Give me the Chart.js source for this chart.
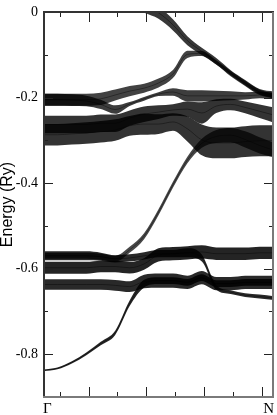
<!DOCTYPE html>
<html lang="en">
<head>
<meta charset="UTF-8">
<title>Fat bands Γ–N</title>
<script src="https://cdn.jsdelivr.net/npm/chart.js@4.4.1/dist/chart.umd.min.js"></script>
<style>
    body { margin: 0; background: #fff; }
    .chart-container { position: relative; width: 277px; height: 415px; }
</style>
</head>
<body>
<div class="chart-container"><canvas id="bandChart"></canvas></div>
<script>
// k along the path, Γ = 0, N = 1
const K = [0, 0.0625, 0.125, 0.1875, 0.25, 0.3125, 0.375, 0.4375, 0.5, 0.5625, 0.625, 0.6875, 0.75, 0.8125, 0.875, 0.9375, 1];

// band energies (Ry) and fat-band widths (Ry), one pair per band
const E_L1 = [-0.838, -0.833, -0.819, -0.799, -0.775, -0.750, -0.681, -0.635, -0.628, -0.628, -0.632, -0.621, -0.635, -0.635, -0.632, -0.632, -0.632];
const W_L1 = [0.004, 0.0045, 0.0055, 0.0065, 0.008, 0.010, 0.013, 0.018, 0.016, 0.016, 0.016, 0.016, 0.016, 0.016, 0.016, 0.016, 0.016];

const E_C = [-0.637, -0.637, -0.637, -0.637, -0.637, -0.639, -0.642, -0.630, -0.628, -0.628, -0.632, -0.621, -0.635, -0.635, -0.632, -0.632, -0.632];
const W_C = [0.025, 0.025, 0.025, 0.025, 0.025, 0.025, 0.025, 0.031, 0.033, 0.033, 0.031, 0.031, 0.031, 0.031, 0.031, 0.031, 0.031];

const E_B = [-0.598, -0.598, -0.598, -0.598, -0.595, -0.595, -0.598, -0.589, -0.568, -0.565, -0.563, -0.561, -0.565, -0.565, -0.565, -0.563, -0.563];
const W_B = [0.028, 0.028, 0.028, 0.028, 0.027, 0.027, 0.027, 0.027, 0.031, 0.031, 0.031, 0.031, 0.029, 0.029, 0.029, 0.029, 0.029];

const E_A = [-0.570, -0.570, -0.570, -0.570, -0.572, -0.577, -0.575, -0.570, -0.565, -0.565, -0.563, -0.575, -0.644, -0.655, -0.662, -0.665, -0.669];
const W_A = [0.021, 0.021, 0.021, 0.021, 0.019, 0.017, 0.017, 0.017, 0.017, 0.017, 0.021, 0.016, 0.011, 0.009, 0.009, 0.009, 0.009];

const E_RISE = [-0.570, -0.570, -0.570, -0.570, -0.572, -0.577, -0.556, -0.524, -0.468, -0.404, -0.346, -0.307, -0.291, -0.288, -0.298, -0.312, -0.323];
const W_RISE = [0.014, 0.014, 0.014, 0.014, 0.014, 0.014, 0.014, 0.014, 0.014, 0.014, 0.015, 0.021, 0.030, 0.034, 0.038, 0.038, 0.034];

const E_B2 = [-0.287, -0.287, -0.285, -0.283, -0.280, -0.276, -0.266, -0.262, -0.262, -0.257, -0.273, -0.299, -0.306, -0.306, -0.303, -0.301, -0.301];
const W_B2 = [0.050, 0.050, 0.050, 0.050, 0.050, 0.050, 0.046, 0.050, 0.046, 0.041, 0.059, 0.072, 0.072, 0.072, 0.072, 0.072, 0.072];

const E_B1 = [-0.263, -0.263, -0.263, -0.263, -0.260, -0.260, -0.248, -0.239, -0.234, -0.229, -0.227, -0.236, -0.220, -0.216, -0.223, -0.232, -0.241];
const W_B1 = [0.041, 0.041, 0.041, 0.041, 0.041, 0.041, 0.036, 0.036, 0.032, 0.027, 0.036, 0.050, 0.032, 0.027, 0.027, 0.032, 0.036];

const E_U2 = [-0.205, -0.205, -0.206, -0.208, -0.216, -0.228, -0.215, -0.203, -0.192, -0.187, -0.196, -0.196, -0.196, -0.196, -0.196, -0.194, -0.196];
const W_U2 = [0.028, 0.028, 0.027, 0.025, 0.022, 0.020, 0.009, 0.009, 0.009, 0.017, 0.026, 0.026, 0.024, 0.021, 0.017, 0.015, 0.015];

const E_U1 = [-0.205, -0.205, -0.205, -0.205, -0.203, -0.194, -0.185, -0.178, -0.166, -0.145, -0.099, -0.097, -0.118, -0.143, -0.166, -0.187, -0.196];
const W_U1 = [0.028, 0.028, 0.028, 0.028, 0.029, 0.026, 0.024, 0.021, 0.021, 0.019, 0.017, 0.012, 0.010, 0.010, 0.010, 0.010, 0.010];

// top band comes in from above the window
const E_TOP = [null, null, null, null, null, null, null, 0.012, -0.002, -0.030, -0.067, -0.092, -0.115, -0.143, -0.166, -0.187, -0.194];
const W_TOP = [null, null, null, null, null, null, null, 0.028, 0.028, 0.026, 0.021, 0.017, 0.015, 0.014, 0.014, 0.014, 0.016];

// tick positions
const Y_LABELS = [0, -0.2, -0.4, -0.6, -0.8];
const Y_MINOR = [-0.1, -0.3, -0.5, -0.7];
const X_MAJOR = [0.197, 0.446, 0.695, 0.948];
const X_MINOR = [0.072, 0.322, 0.572, 0.821];
const X_LABELS = ['Γ', 'N'];

function bandDatasets(e, w, alpha) {
    const pts = f => K.map((k, i) => e[i] === null ? null : { x: k, y: f(e[i], w[i]) }).filter(p => p);
    const common = { pointRadius: 0, borderWidth: 0, borderColor: 'transparent', cubicInterpolationMode: 'monotone', fill: false };
    return [
        { ...common, data: pts((c, d) => c - d / 2) },
        { ...common, data: pts((c, d) => c + d / 2), fill: '-1', backgroundColor: `rgba(0, 0, 0, ${alpha})` },
        { ...common, data: pts(c => c), borderWidth: 1, borderColor: 'rgba(0, 0, 0, 0.4)' }
    ];
}

const datasets = [
    [E_L1, W_L1, 0.85], [E_C, W_C, 0.84], [E_B, W_B, 0.86], [E_A, W_A, 0.84], [E_RISE, W_RISE, 0.72],
    [E_B2, W_B2, 0.8], [E_B1, W_B1, 0.8], [E_U2, W_U2, 0.76], [E_U1, W_U1, 0.74], [E_TOP, W_TOP, 0.78]
].flatMap(([e, w, a]) => bandDatasets(e, w, a));

// frame and inward ticks on all four sides
const framePlugin = {
    id: 'frame',
    afterDraw(chart) {
        const { ctx, chartArea: a, scales: { x, y } } = chart;
        ctx.save();
        ctx.strokeStyle = '#222';
        ctx.lineWidth = 1;
        const tickY = (v, len) => {
            const py = Math.round(y.getPixelForValue(v)) + 0.5;
            ctx.beginPath();
            ctx.moveTo(a.left, py); ctx.lineTo(a.left + len, py);
            ctx.moveTo(a.right, py); ctx.lineTo(a.right - len, py);
            ctx.stroke();
        };
        const tickX = (v, len) => {
            const px = Math.round(x.getPixelForValue(v)) + 0.5;
            ctx.beginPath();
            ctx.moveTo(px, a.bottom); ctx.lineTo(px, a.bottom - len);
            ctx.moveTo(px, a.top); ctx.lineTo(px, a.top + len);
            ctx.stroke();
        };
        Y_LABELS.forEach(v => tickY(v, 10));
        Y_MINOR.forEach(v => tickY(v, 5));
        X_MAJOR.forEach(v => tickX(v, 10));
        X_MINOR.forEach(v => tickX(v, 5));

        ctx.lineWidth = 2;
        ctx.strokeStyle = '#333';
        ctx.beginPath();
        ctx.moveTo(a.left + 1, a.bottom); ctx.lineTo(a.left + 1, a.top); ctx.lineTo(a.right, a.top);
        ctx.stroke();
        ctx.strokeStyle = '#7a7a7a';
        ctx.beginPath();
        ctx.moveTo(a.right - 1, a.top); ctx.lineTo(a.right - 1, a.bottom); ctx.lineTo(a.left, a.bottom);
        ctx.stroke();
        ctx.restore();
    }
};

new Chart(document.getElementById('bandChart'), {
    type: 'line',
    data: { datasets },
    options: {
        responsive: true,
        maintainAspectRatio: false,
        animation: false,
        events: [],
        layout: { padding: { top: 7, right: 1, left: 0, bottom: 0 } },
        plugins: { legend: { display: false }, tooltip: { enabled: false } },
        scales: {
            x: {
                type: 'linear', min: 0, max: 1,
                afterBuildTicks: s => { s.ticks = [{ value: 0 }, { value: 1 }]; },
                afterFit: s => { s.height = 18; },
                grid: { display: false, drawTicks: false },
                border: { display: false },
                ticks: {
                    callback: (v, i) => X_LABELS[i],
                    align: 'inner', padding: 3, autoSkip: false, maxRotation: 0,
                    color: '#000', font: { family: 'Liberation Serif', size: 15, lineHeight: 1.2 }
                }
            },
            y: {
                type: 'linear', min: -0.9, max: 0,
                afterBuildTicks: s => { s.ticks = Y_LABELS.map(v => ({ value: v })); },
                afterFit: s => { s.width = 43; },
                grid: { display: false, drawTicks: false },
                border: { display: false },
                ticks: {
                    callback: v => v === 0 ? '0' : v.toFixed(1),
                    padding: 5,
                    color: '#000', font: { family: 'Liberation Serif', size: 14, lineHeight: 1 }
                },
                title: {
                    display: true, text: 'Energy (Ry)', color: '#000', padding: 0,
                    font: { family: 'Liberation Sans', size: 16, lineHeight: 1 }
                }
            }
        }
    },
    plugins: [framePlugin]
});
</script>
</body>
</html>
